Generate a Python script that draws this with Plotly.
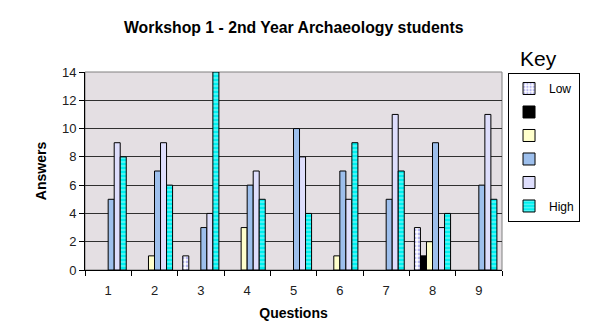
import plotly.graph_objects as go

questions = ["1", "2", "3", "4", "5", "6", "7", "8", "9"]
series_names = ["Low", " ", "  ", "   ", "    ", "High"]
low_vals = [0, 0, 1, 0, 0, 0, 0, 3, 0]
black_vals = [0, 0, 0, 0, 0, 0, 0, 1, 0]
yellow_vals = [0, 1, 0, 3, 0, 1, 0, 2, 0]
blue_vals = [5, 7, 3, 6, 10, 7, 5, 9, 6]
lavender_vals = [9, 9, 4, 7, 8, 5, 11, 3, 11]
high_vals = [8, 6, 14, 5, 4, 9, 7, 4, 5]
y_ticks = [0, 2, 4, 6, 8, 10, 12, 14]

all_vals = [low_vals, black_vals, yellow_vals, blue_vals, lavender_vals, high_vals]
colors = ["#FFFFFF", "#000000", "#FFFFCC", "#9DBFEC", "#DEDEFC", "#00F0F0"]
patterns = [
    dict(shape=".", fgcolor="#6C6CE0", size=4, solidity=0.4),
    None, None, None, None,
    dict(shape="-", fgcolor="#FFFFFF", size=4, solidity=0.3),
]

FONT = "Liberation Sans, Arial, sans-serif"
fig = go.Figure()
for i, (name, vals) in enumerate(zip(series_names, all_vals)):
    marker = dict(color=colors[i], line=dict(color="#000000", width=1))
    if patterns[i] is not None:
        marker["pattern"] = patterns[i]
    # zero-valued answers are not drawn (as in the original chart)
    yv = [v if v else None for v in vals]
    fig.add_trace(go.Bar(x=questions, y=yv, name=name, marker=marker,
                         legendgroup=f"g{i}"))

fig.update_layout(
    width=591, height=321,
    margin=dict(l=85, r=88, t=72, b=51),
    paper_bgcolor="#FFFFFF",
    plot_bgcolor="#E4DFE3",
    barmode="group", bargap=0.22, bargroupgap=0,
    font=dict(family=FONT, size=12, color="#000000"),
    title=dict(text="<b>Workshop 1 - 2nd Year Archaeology students</b>",
               x=0.497, xanchor="center", y=0.915, yanchor="middle",
               font=dict(family=FONT, size=15.8, color="#000000")),
    showlegend=True,
    legend=dict(x=1.012, xanchor="left", y=0.995, yanchor="top",
                bgcolor="#FFFFFF", bordercolor="#000000", borderwidth=1,
                font=dict(family=FONT, size=12, color="#000000"),
                tracegroupgap=4.5, traceorder="grouped",
                itemwidth=30),
    xaxis=dict(type="category", showgrid=False, showline=True,
               linecolor="#000000", linewidth=1,
               ticks="outside", tickson="boundaries", ticklen=5,
               tickcolor="#000000",
               ticklabelstandoff=8, automargin=False,
               tickfont=dict(family=FONT, size=13, color="#202020"),
               title=dict(text="<b>Questions</b>", standoff=14,
                          font=dict(family=FONT, size=14, color="#000000"))),
    yaxis=dict(range=[0, 14], tickvals=y_ticks, showgrid=True,
               gridcolor="#303030", gridwidth=1, zeroline=False,
               showline=True, linecolor="#000000", linewidth=1,
               ticks="outside", ticklen=5, tickcolor="#000000",
               automargin=False,
               tickfont=dict(family=FONT, size=13, color="#202020"),
               title=dict(text="<b>Answers</b>", standoff=12,
                          font=dict(family=FONT, size=14, color="#000000"))),
    shapes=[dict(type="rect", xref="paper", yref="paper", x0=0, x1=1, y0=0, y1=1,
                 line=dict(color="#808080", width=1), layer="below")],
    annotations=[dict(text="Key", xref="paper", yref="paper", x=1.088, y=1.07,
                      xanchor="center", yanchor="middle", showarrow=False,
                      font=dict(family=FONT, size=21, color="#000000"))],
)

fig.write_html("out.html")
